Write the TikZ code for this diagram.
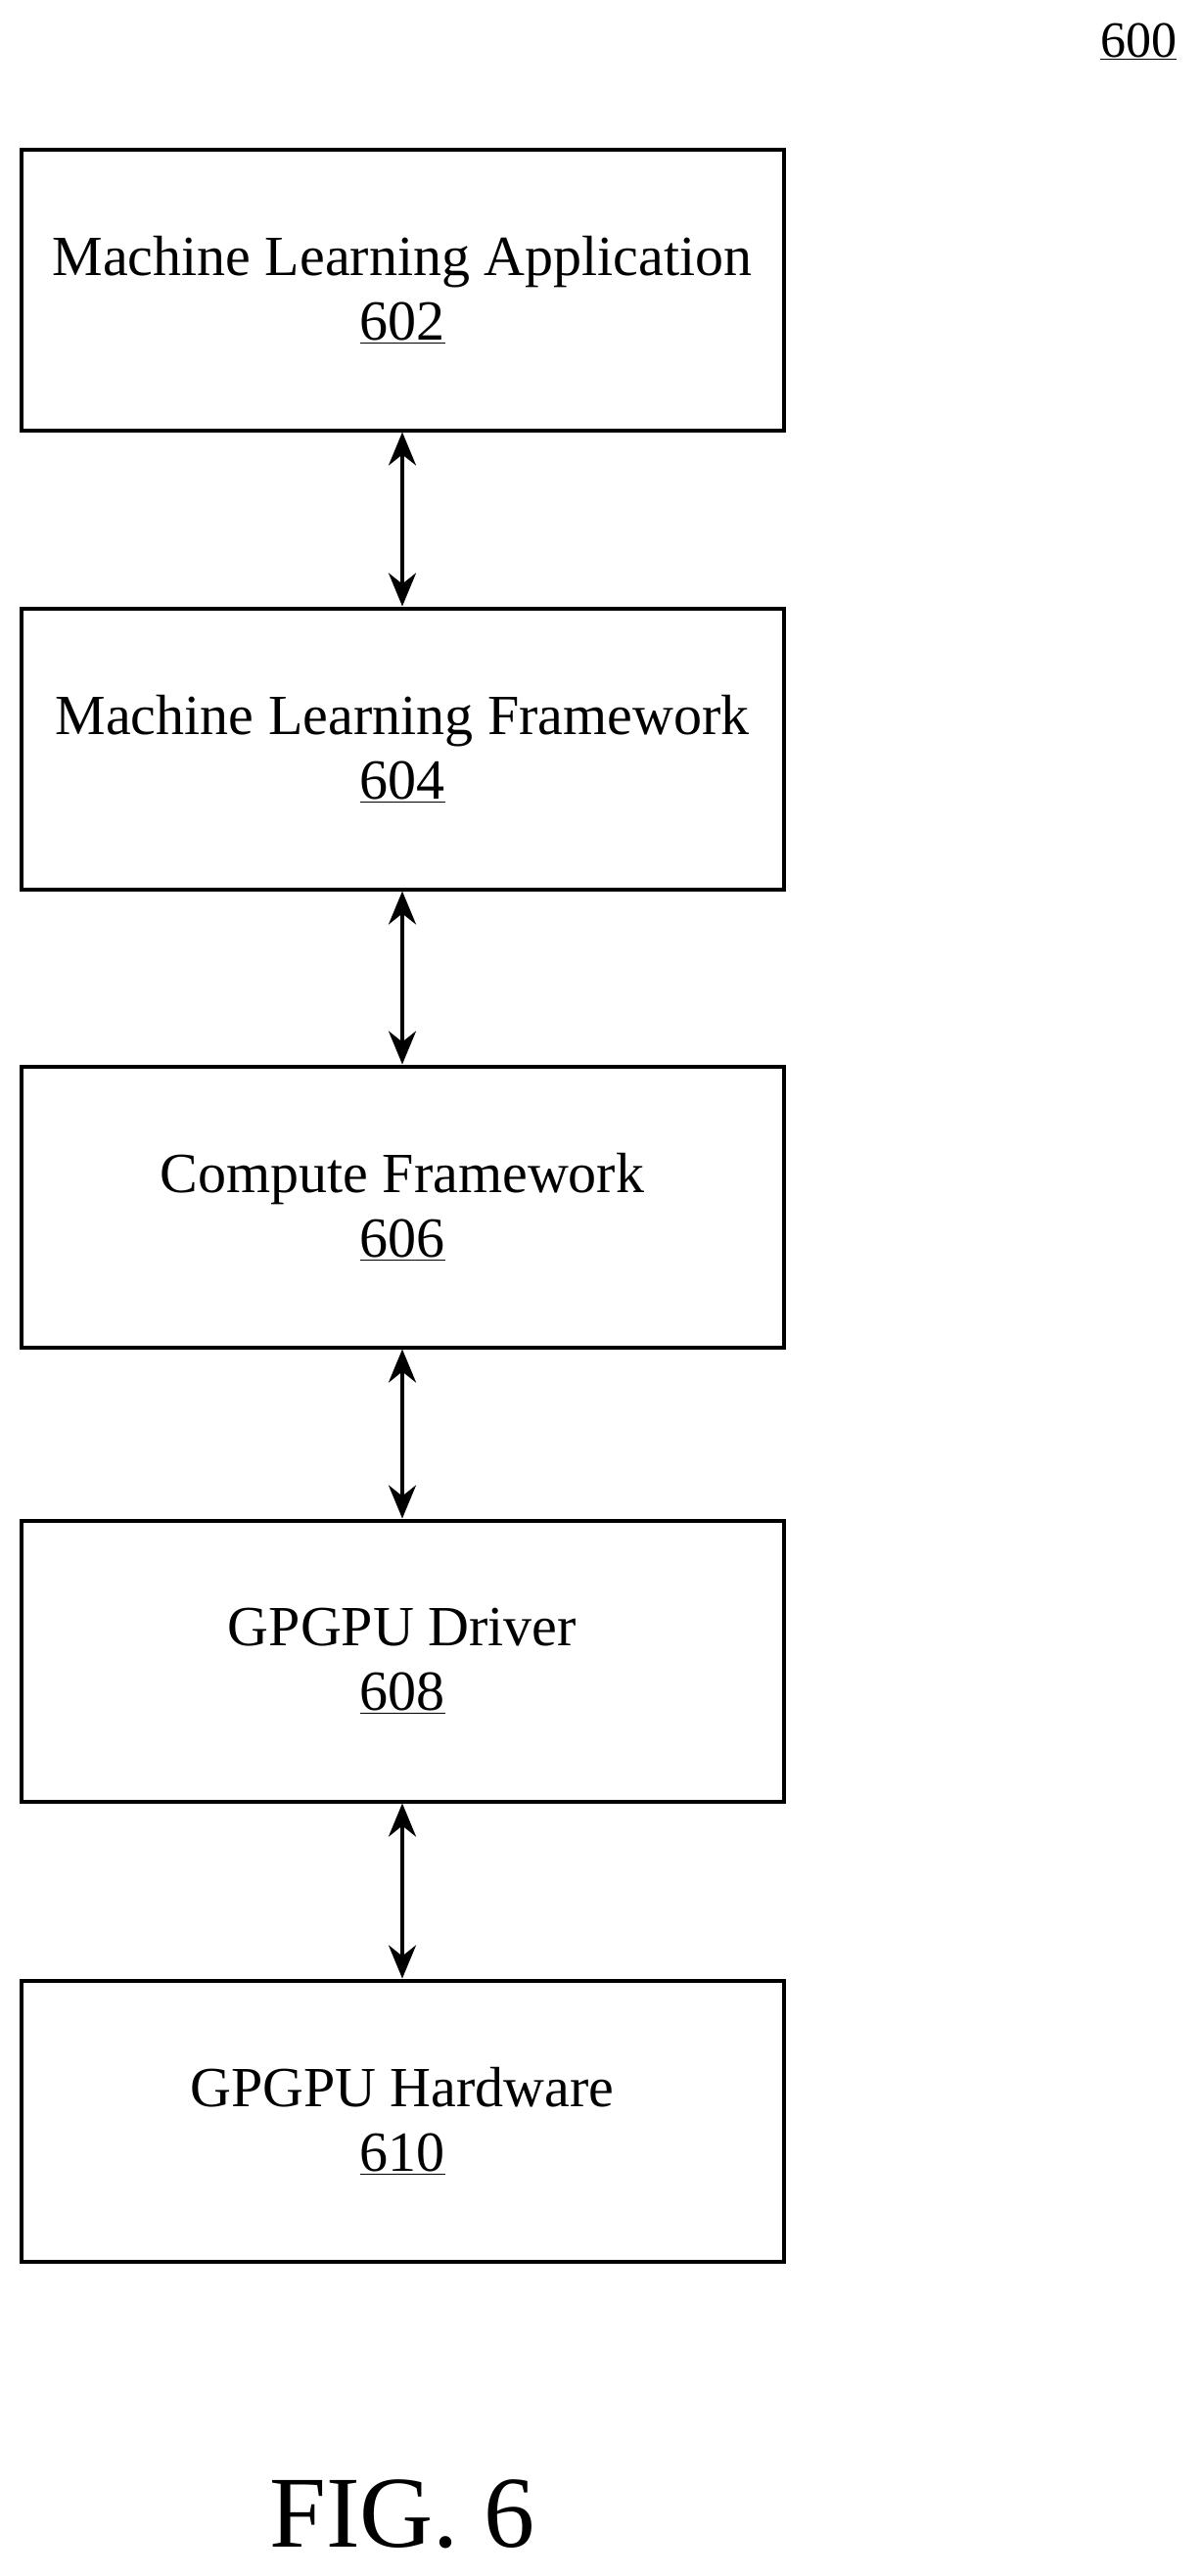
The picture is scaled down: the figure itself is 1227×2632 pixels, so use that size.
\documentclass[tikz,border=0pt]{standalone}
\usepackage{fontspec}
\setmainfont{Liberation Serif}
\usetikzlibrary{arrows.meta}
\begin{document}
\begin{tikzpicture}[x=1pt,y=-1pt,
  box/.style={draw,line width=4pt,minimum width=779pt,minimum height=287pt,align=center,font=\fontsize{58}{66}\selectfont,inner sep=0pt},
  conn/.style={line width=4pt,{Stealth[length=34pt,width=28pt]}-{Stealth[length=34pt,width=28pt]}}]
\useasboundingbox (0,0) rectangle (1227,2632);
\node[box] (a) at (411,296) {Machine Learning Application\\\underline{602}};
\node[box] (b) at (411,765) {Machine Learning Framework\\\underline{604}};
\node[box] (c) at (411,1233) {Compute Framework\\\underline{606}};
\node[box] (d) at (411,1697) {GPGPU Driver\\\underline{608}};
\node[box] (e) at (411,2167) {GPGPU Hardware\\\underline{610}};
\draw[conn] (a.south) -- (b.north);
\draw[conn] (b.south) -- (c.north);
\draw[conn] (c.south) -- (d.north);
\draw[conn] (d.south) -- (e.north);
\node[font=\fontsize{52}{56}\selectfont] (n) at (1163,42) {\underline{600}};
\node[font=\fontsize{104}{110}\selectfont] (f) at (411,2569) {FIG. 6};
\end{tikzpicture}
\end{document}
